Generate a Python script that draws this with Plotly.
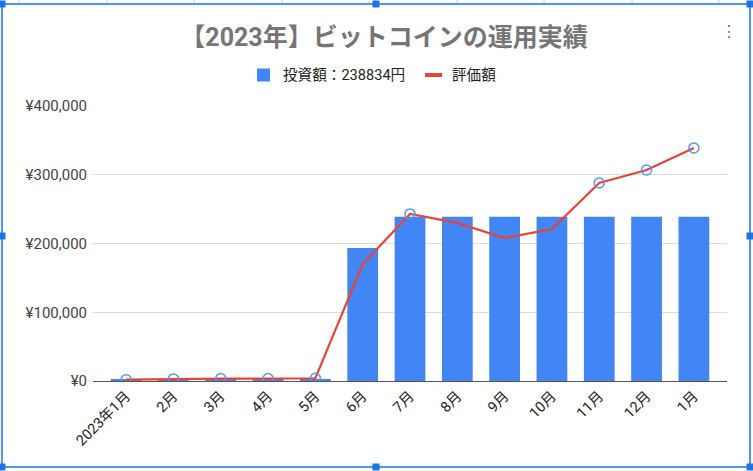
import plotly.graph_objects as go

months = ["2023年1月", "2月", "3月", "4月", "5月", "6月", "7月", "8月", "9月", "10月", "11月", "12月", "1月"]
invested = [2000, 2500, 2500, 3000, 3000, 193500, 238834, 238834, 238834, 238834, 238834, 238834, 238834]
valuation = [2000, 3000, 3500, 3500, 4000, 170000, 243000, 230000, 208000, 221000, 288000, 307000, 339000]
marked = [True, True, True, True, True, False, True, False, False, False, True, True, True]
yticks = [0, 100000, 200000, 300000, 400000]
ytick_labels = ["¥{:,}".format(v) for v in yticks]
series_names = ["投資額：238834円", "評価額"]
title_text = "【2023年】ビットコインの運用実績"

W, H = 753, 471
L, R, T, B = 93, 26, 106, 90
PW, PH = W - L - R, H - T - B

def px(x):
    return (x - L) / PW

def py(y):
    return (H - B - y) / PH

FONT = "Roboto, 'Noto Sans CJK JP', sans-serif"
BLUE = "#4285f4"
RED = "#ea4335"

fig = go.Figure()
fig.add_trace(go.Bar(x=months, y=invested, name=series_names[0], showlegend=False,
                     marker=dict(color=BLUE, line=dict(width=0)), width=0.65))
fig.add_trace(go.Scatter(x=months, y=valuation, name=series_names[1], mode="lines", showlegend=False,
                         line=dict(color=RED, width=2.2)))
fig.add_trace(go.Scatter(x=months, y=[v if m else None for v, m in zip(valuation, marked)],
                         mode="markers", showlegend=False, hoverinfo="skip",
                         marker=dict(symbol="circle-open", size=10, color="#5a95f5",
                                     line=dict(width=1.5, color="#5a95f5"))))

shapes = []
# legend symbols
shapes.append(dict(type="rect", xref="paper", yref="paper", x0=px(257), x1=px(270), y0=py(81.5), y1=py(68.5),
                   fillcolor=BLUE, line=dict(width=0)))
shapes.append(dict(type="line", xref="paper", yref="paper", x0=px(425), x1=px(442), y0=py(75), y1=py(75),
                   line=dict(color=RED, width=4)))
# selection frame
fb = "#1a73e8"
shapes.append(dict(type="rect", xref="paper", yref="paper", x0=px(2), x1=px(750), y0=py(4), y1=py(467),
                   line=dict(color=fb, width=1.5), layer="above"))
for hx, hy in [(2, 4), (376, 4), (750, 4), (2, 236), (750, 236), (2, 467), (376, 467), (750, 467)]:
    shapes.append(dict(type="rect", xref="paper", yref="paper", x0=px(hx - 3.5), x1=px(hx + 3.5),
                       y0=py(hy + 3.5), y1=py(hy - 3.5), fillcolor=fb, line=dict(width=0), layer="above"))
for gx in [19, 107, 194, 282, 369, 457, 544, 632, 719]:
    shapes.append(dict(type="line", xref="paper", yref="paper", x0=px(gx), x1=px(gx), y0=py(0), y1=py(3),
                       line=dict(color="#d0d0d0", width=1)))

annotations = [
    dict(text="⋮", x=px(739), y=py(20), xref="paper", yref="paper", showarrow=False,
         font=dict(size=16, color="#777")),
    dict(text=series_names[0], x=px(281), y=py(75), xref="paper", yref="paper", showarrow=False,
         xanchor="left", yanchor="middle", font=dict(family=FONT, size=14.6, color="#222")),
    dict(text=series_names[1], x=px(450), y=py(75), xref="paper", yref="paper", showarrow=False,
         xanchor="left", yanchor="middle", font=dict(family=FONT, size=14.6, color="#222")),
]

fig.update_layout(
    width=W, height=H,
    margin=dict(l=L, r=R, t=T, b=B),
    paper_bgcolor="white", plot_bgcolor="white",
    font=dict(family=FONT, size=14, color="#444"),
    title=dict(text="<b>" + title_text + "</b>", xref="container", x=384 / W, xanchor="center",
               yref="container", y=1 - 37 / H, yanchor="middle",
               font=dict(family=FONT, size=25, color="#757575")),
    showlegend=False,
    bargap=0.35,
    shapes=shapes,
    annotations=annotations,
    xaxis=dict(type="category", range=[-0.7, 12.7], tickangle=-45, showgrid=False,
               showline=True, linecolor="#555", linewidth=1, ticks="",
               tickfont=dict(family=FONT, size=14.5, color="#222")),
    yaxis=dict(range=[0, 400000], tickvals=yticks, ticktext=ytick_labels,
               showgrid=True, gridcolor="#dcdcdc", gridwidth=1, zeroline=False,
               ticks="", ticklabelstandoff=5, tickfont=dict(family=FONT, size=15, color="#444")),
)

fig.write_html("out.html")
